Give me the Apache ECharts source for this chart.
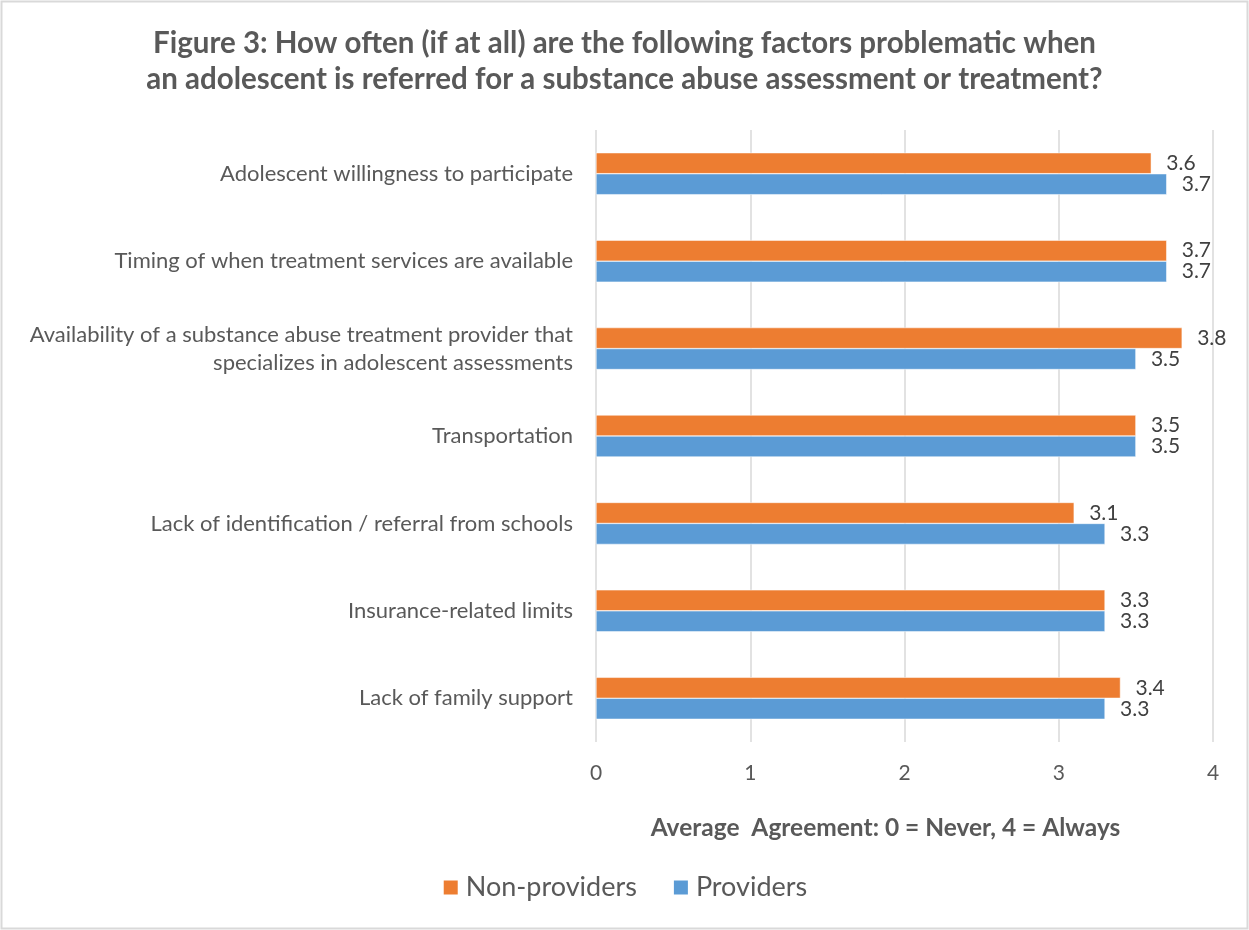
<!DOCTYPE html>
<html>
<head>
<meta charset="utf-8">
<script src="https://cdn.jsdelivr.net/npm/echarts@6/dist/echarts.min.js"></script>
<style>
  html, body { margin: 0; padding: 0; background: #fff; }
  #chart { width: 1249px; height: 930px; }
</style>
</head>
<body>
<div id="chart"></div>
<script>
// categories listed bottom -> top (category axis starts at the bottom)
var factors = [
    'Lack of family support',
    'Insurance-related limits',
    'Lack of identification / referral from schools',
    'Transportation',
    'Availability of a substance abuse treatment provider that\nspecializes in adolescent assessments',
    'Timing of when treatment services are available',
    'Adolescent willingness to participate'
];
var nonProviders = [3.4, 3.3, 3.1, 3.5, 3.8, 3.7, 3.6];
var providers = [3.3, 3.3, 3.3, 3.5, 3.5, 3.7, 3.7];
var xTicks = [0, 1, 2, 3, 4];

var textColor = '#595959';
var fontName = 'Lato';

function oneDecimal(p) {
    return p.value.toFixed(1);
}

var myChart = echarts.init(document.getElementById('chart'));
myChart.setOption({
    textStyle: { fontFamily: fontName },
    title: {
        text: 'Figure 3: How often (if at all) are the following factors problematic when\nan adolescent is referred for a substance abuse assessment or treatment?',
        left: 'center',
        top: 20,
        textStyle: {
            fontFamily: fontName,
            fontSize: 29.5,
            fontWeight: 'bold',
            color: textColor,
            lineHeight: 36
        }
    },
    graphic: [{
        type: 'rect',
        shape: { x: 1.5, y: 1.5, width: 1246, height: 927 },
        style: { fill: 'none', stroke: '#d9d9d9', lineWidth: 2 },
        silent: true
    }],
    legend: {
        data: ['Non-providers', 'Providers'],
        left: 'center',
        top: 869,
        itemWidth: 16,
        itemHeight: 16,
        itemGap: 35,
        icon: 'rect',
        textStyle: { fontFamily: fontName, fontSize: 27, color: textColor, padding: [0, 0, 0, 2] }
    },
    grid: {
        left: 596,
        right: 36,
        top: 130,
        bottom: 188
    },
    xAxis: {
        type: 'value',
        min: xTicks[0],
        max: xTicks[xTicks.length - 1],
        interval: 1,
        name: 'Average  Agreement: 0 = Never, 4 = Always',
        nameLocation: 'middle',
        nameGap: 74,
        nameTextStyle: {
            fontFamily: fontName,
            fontSize: 24.5,
            fontWeight: 'bold',
            color: textColor,
            padding: [0, 38, 0, 0]
        },
        axisLine: { show: false },
        axisTick: { show: false },
        axisLabel: {
            fontSize: 21,
            color: textColor,
            margin: 21
        },
        splitLine: { show: true, lineStyle: { color: '#d9d9d9', width: 1.5 } }
    },
    yAxis: {
        type: 'category',
        data: factors,
        axisLine: { show: false },
        axisTick: { show: false },
        axisLabel: {
            fontSize: 22,
            color: textColor,
            margin: 23,
            lineHeight: 28
        }
    },
    series: [
        {
            name: 'Non-providers',
            type: 'bar',
            data: nonProviders,
            barGap: '0%',
            barCategoryGap: '52%',
            itemStyle: { color: '#ED7D31', borderColor: '#ffffff', borderWidth: 0.5 },
            label: {
                show: true,
                position: 'right',
                distance: 15,
                fontSize: 21,
                color: '#404040',
                formatter: oneDecimal
            }
        },
        {
            name: 'Providers',
            type: 'bar',
            data: providers,
            barGap: '0%',
            barCategoryGap: '52%',
            itemStyle: { color: '#5B9BD5', borderColor: '#ffffff', borderWidth: 0.5 },
            label: {
                show: true,
                position: 'right',
                distance: 15,
                fontSize: 21,
                color: '#404040',
                formatter: oneDecimal
            }
        }
    ]
});
</script>
</body>
</html>
